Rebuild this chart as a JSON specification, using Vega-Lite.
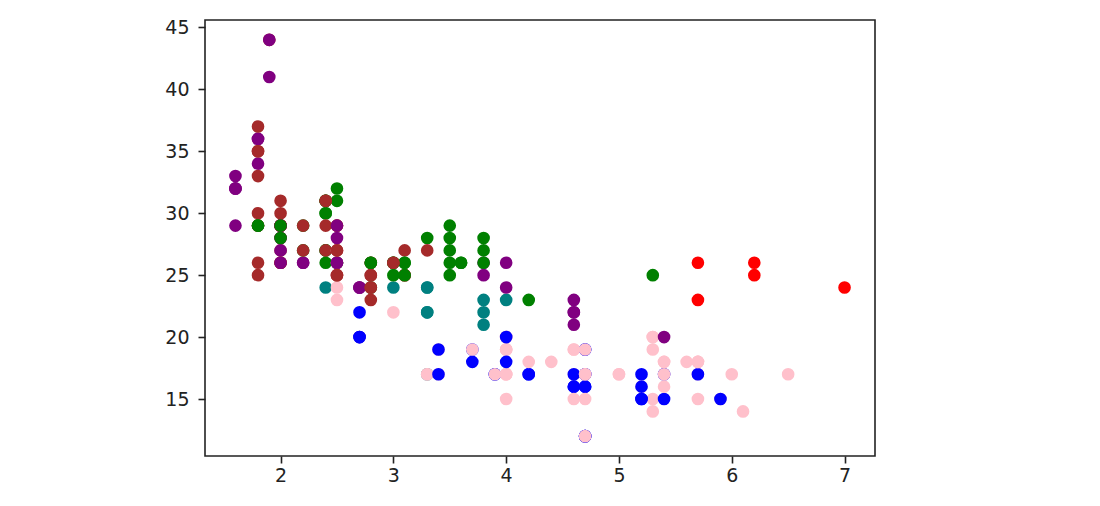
{
"$schema": "https://vega.github.io/schema/vega-lite/v6.json",
"autosize": "none",
"width": 670,
"height": 436,
"padding": {"left": 205, "top": 20, "right": 225, "bottom": 50},
"background": "white",
"config": {
"view": {"stroke": "#222", "strokeWidth": 1.6},
"axis": {"domain": false, "grid": false, "title": null, "labelFont": "DejaVu Sans", "labelFontSize": 19, "labelColor": "#222", "tickColor": "#222", "tickWidth": 1.6, "tickSize": 7}
},
"data": {"values": [
{"displ":1.8,"hwy":29,"class":"compact"},{"displ":1.8,"hwy":29,"class":"compact"},{"displ":2.0,"hwy":31,"class":"compact"},{"displ":2.0,"hwy":30,"class":"compact"},{"displ":2.8,"hwy":26,"class":"compact"},{"displ":2.8,"hwy":26,"class":"compact"},{"displ":3.1,"hwy":27,"class":"compact"},{"displ":1.8,"hwy":26,"class":"compact"},{"displ":1.8,"hwy":25,"class":"compact"},{"displ":2.0,"hwy":28,"class":"compact"},{"displ":2.0,"hwy":27,"class":"compact"},{"displ":2.8,"hwy":25,"class":"compact"},{"displ":2.8,"hwy":25,"class":"compact"},{"displ":3.1,"hwy":25,"class":"compact"},{"displ":3.1,"hwy":25,"class":"compact"},
{"displ":2.8,"hwy":24,"class":"midsize"},{"displ":3.1,"hwy":25,"class":"midsize"},{"displ":4.2,"hwy":23,"class":"midsize"},
{"displ":5.3,"hwy":20,"class":"suv"},{"displ":5.3,"hwy":15,"class":"suv"},{"displ":5.3,"hwy":20,"class":"suv"},{"displ":5.7,"hwy":17,"class":"suv"},{"displ":6.0,"hwy":17,"class":"suv"},
{"displ":5.7,"hwy":26,"class":"2seater"},{"displ":5.7,"hwy":23,"class":"2seater"},{"displ":6.2,"hwy":26,"class":"2seater"},{"displ":6.2,"hwy":25,"class":"2seater"},{"displ":7.0,"hwy":24,"class":"2seater"},
{"displ":5.3,"hwy":19,"class":"suv"},{"displ":5.3,"hwy":14,"class":"suv"},{"displ":5.7,"hwy":15,"class":"suv"},{"displ":6.5,"hwy":17,"class":"suv"},
{"displ":2.4,"hwy":27,"class":"midsize"},{"displ":2.4,"hwy":30,"class":"midsize"},{"displ":3.1,"hwy":26,"class":"midsize"},{"displ":3.5,"hwy":29,"class":"midsize"},{"displ":3.6,"hwy":26,"class":"midsize"},
{"displ":2.4,"hwy":24,"class":"minivan"},{"displ":3.0,"hwy":24,"class":"minivan"},{"displ":3.3,"hwy":22,"class":"minivan"},{"displ":3.3,"hwy":22,"class":"minivan"},{"displ":3.3,"hwy":24,"class":"minivan"},{"displ":3.3,"hwy":24,"class":"minivan"},{"displ":3.3,"hwy":17,"class":"minivan"},{"displ":3.8,"hwy":22,"class":"minivan"},{"displ":3.8,"hwy":21,"class":"minivan"},{"displ":3.8,"hwy":23,"class":"minivan"},{"displ":4.0,"hwy":23,"class":"minivan"},
{"displ":3.7,"hwy":19,"class":"pickup"},{"displ":3.7,"hwy":18,"class":"pickup"},{"displ":3.9,"hwy":17,"class":"pickup"},{"displ":3.9,"hwy":17,"class":"pickup"},{"displ":4.7,"hwy":19,"class":"pickup"},{"displ":4.7,"hwy":19,"class":"pickup"},{"displ":4.7,"hwy":12,"class":"pickup"},{"displ":5.2,"hwy":17,"class":"pickup"},{"displ":5.2,"hwy":15,"class":"pickup"},
{"displ":3.9,"hwy":17,"class":"suv"},{"displ":4.7,"hwy":17,"class":"suv"},{"displ":4.7,"hwy":12,"class":"suv"},{"displ":4.7,"hwy":17,"class":"suv"},{"displ":5.2,"hwy":16,"class":"suv"},{"displ":5.7,"hwy":18,"class":"suv"},{"displ":5.9,"hwy":15,"class":"suv"},
{"displ":4.7,"hwy":16,"class":"pickup"},{"displ":4.7,"hwy":12,"class":"pickup"},{"displ":4.7,"hwy":17,"class":"pickup"},{"displ":4.7,"hwy":17,"class":"pickup"},{"displ":4.7,"hwy":16,"class":"pickup"},{"displ":4.7,"hwy":12,"class":"pickup"},{"displ":5.2,"hwy":15,"class":"pickup"},{"displ":5.2,"hwy":16,"class":"pickup"},{"displ":5.7,"hwy":17,"class":"pickup"},{"displ":5.9,"hwy":15,"class":"pickup"},
{"displ":4.6,"hwy":17,"class":"suv"},{"displ":5.4,"hwy":17,"class":"suv"},{"displ":5.4,"hwy":18,"class":"suv"},{"displ":4.0,"hwy":17,"class":"suv"},{"displ":4.0,"hwy":19,"class":"suv"},{"displ":4.0,"hwy":17,"class":"suv"},{"displ":4.0,"hwy":19,"class":"suv"},{"displ":4.6,"hwy":19,"class":"suv"},{"displ":5.0,"hwy":17,"class":"suv"},
{"displ":4.2,"hwy":17,"class":"pickup"},{"displ":4.2,"hwy":17,"class":"pickup"},{"displ":4.6,"hwy":16,"class":"pickup"},{"displ":4.6,"hwy":16,"class":"pickup"},{"displ":4.6,"hwy":17,"class":"pickup"},{"displ":5.4,"hwy":15,"class":"pickup"},{"displ":5.4,"hwy":17,"class":"pickup"},
{"displ":3.8,"hwy":26,"class":"subcompact"},{"displ":3.8,"hwy":25,"class":"subcompact"},{"displ":4.0,"hwy":26,"class":"subcompact"},{"displ":4.0,"hwy":24,"class":"subcompact"},{"displ":4.6,"hwy":21,"class":"subcompact"},{"displ":4.6,"hwy":22,"class":"subcompact"},{"displ":4.6,"hwy":23,"class":"subcompact"},{"displ":4.6,"hwy":22,"class":"subcompact"},{"displ":5.4,"hwy":20,"class":"subcompact"},
{"displ":1.6,"hwy":33,"class":"subcompact"},{"displ":1.6,"hwy":32,"class":"subcompact"},{"displ":1.6,"hwy":32,"class":"subcompact"},{"displ":1.6,"hwy":29,"class":"subcompact"},{"displ":1.6,"hwy":32,"class":"subcompact"},{"displ":1.8,"hwy":34,"class":"subcompact"},{"displ":1.8,"hwy":36,"class":"subcompact"},{"displ":1.8,"hwy":36,"class":"subcompact"},{"displ":2.0,"hwy":29,"class":"subcompact"},
{"displ":2.4,"hwy":26,"class":"midsize"},{"displ":2.4,"hwy":27,"class":"midsize"},{"displ":2.4,"hwy":30,"class":"midsize"},{"displ":2.4,"hwy":31,"class":"midsize"},{"displ":2.5,"hwy":26,"class":"midsize"},{"displ":2.5,"hwy":26,"class":"midsize"},{"displ":3.3,"hwy":28,"class":"midsize"},
{"displ":2.0,"hwy":26,"class":"subcompact"},{"displ":2.0,"hwy":29,"class":"subcompact"},{"displ":2.0,"hwy":28,"class":"subcompact"},{"displ":2.0,"hwy":27,"class":"subcompact"},{"displ":2.7,"hwy":24,"class":"subcompact"},{"displ":2.7,"hwy":24,"class":"subcompact"},{"displ":2.7,"hwy":24,"class":"subcompact"},
{"displ":3.0,"hwy":22,"class":"suv"},{"displ":3.7,"hwy":19,"class":"suv"},{"displ":4.0,"hwy":20,"class":"suv"},{"displ":4.7,"hwy":17,"class":"suv"},{"displ":4.7,"hwy":12,"class":"suv"},{"displ":4.7,"hwy":19,"class":"suv"},{"displ":5.7,"hwy":18,"class":"suv"},{"displ":6.1,"hwy":14,"class":"suv"},
{"displ":4.0,"hwy":15,"class":"suv"},{"displ":4.2,"hwy":18,"class":"suv"},{"displ":4.4,"hwy":18,"class":"suv"},{"displ":4.6,"hwy":15,"class":"suv"},
{"displ":5.4,"hwy":17,"class":"suv"},{"displ":5.4,"hwy":16,"class":"suv"},{"displ":5.4,"hwy":18,"class":"suv"},
{"displ":4.0,"hwy":17,"class":"suv"},{"displ":4.0,"hwy":19,"class":"suv"},{"displ":4.6,"hwy":19,"class":"suv"},{"displ":5.0,"hwy":17,"class":"suv"},
{"displ":2.4,"hwy":29,"class":"compact"},{"displ":2.4,"hwy":27,"class":"compact"},{"displ":2.5,"hwy":31,"class":"midsize"},{"displ":2.5,"hwy":32,"class":"midsize"},{"displ":3.5,"hwy":27,"class":"midsize"},{"displ":3.5,"hwy":26,"class":"midsize"},
{"displ":3.0,"hwy":26,"class":"midsize"},{"displ":3.0,"hwy":25,"class":"midsize"},{"displ":3.5,"hwy":25,"class":"midsize"},
{"displ":3.3,"hwy":17,"class":"suv"},{"displ":3.3,"hwy":17,"class":"suv"},{"displ":4.0,"hwy":20,"class":"suv"},{"displ":5.6,"hwy":18,"class":"suv"},
{"displ":3.1,"hwy":26,"class":"midsize"},{"displ":3.8,"hwy":26,"class":"midsize"},{"displ":3.8,"hwy":27,"class":"midsize"},{"displ":3.8,"hwy":28,"class":"midsize"},{"displ":5.3,"hwy":25,"class":"midsize"},
{"displ":2.5,"hwy":25,"class":"suv"},{"displ":2.5,"hwy":24,"class":"suv"},{"displ":2.5,"hwy":27,"class":"suv"},{"displ":2.5,"hwy":25,"class":"suv"},{"displ":2.5,"hwy":26,"class":"suv"},{"displ":2.5,"hwy":23,"class":"suv"},
{"displ":2.2,"hwy":26,"class":"subcompact"},{"displ":2.2,"hwy":26,"class":"subcompact"},{"displ":2.5,"hwy":26,"class":"subcompact"},{"displ":2.5,"hwy":26,"class":"subcompact"},
{"displ":2.5,"hwy":25,"class":"compact"},{"displ":2.5,"hwy":27,"class":"compact"},{"displ":2.5,"hwy":25,"class":"compact"},{"displ":2.5,"hwy":27,"class":"compact"},
{"displ":2.7,"hwy":20,"class":"suv"},{"displ":2.7,"hwy":20,"class":"suv"},{"displ":3.4,"hwy":19,"class":"suv"},{"displ":3.4,"hwy":17,"class":"suv"},{"displ":4.0,"hwy":20,"class":"suv"},{"displ":4.7,"hwy":17,"class":"suv"},
{"displ":2.2,"hwy":29,"class":"midsize"},{"displ":2.2,"hwy":27,"class":"midsize"},{"displ":2.4,"hwy":31,"class":"midsize"},{"displ":2.4,"hwy":31,"class":"midsize"},{"displ":3.0,"hwy":26,"class":"midsize"},{"displ":3.0,"hwy":26,"class":"midsize"},{"displ":3.5,"hwy":28,"class":"midsize"},
{"displ":2.2,"hwy":27,"class":"compact"},{"displ":2.2,"hwy":29,"class":"compact"},{"displ":2.4,"hwy":31,"class":"compact"},{"displ":2.4,"hwy":31,"class":"compact"},{"displ":3.0,"hwy":26,"class":"compact"},{"displ":3.0,"hwy":26,"class":"compact"},{"displ":3.3,"hwy":27,"class":"compact"},
{"displ":1.8,"hwy":30,"class":"compact"},{"displ":1.8,"hwy":33,"class":"compact"},{"displ":1.8,"hwy":35,"class":"compact"},{"displ":1.8,"hwy":37,"class":"compact"},{"displ":1.8,"hwy":35,"class":"compact"},
{"displ":4.7,"hwy":15,"class":"suv"},{"displ":5.7,"hwy":18,"class":"suv"},
{"displ":2.7,"hwy":20,"class":"pickup"},{"displ":2.7,"hwy":20,"class":"pickup"},{"displ":2.7,"hwy":22,"class":"pickup"},{"displ":3.4,"hwy":17,"class":"pickup"},{"displ":3.4,"hwy":19,"class":"pickup"},{"displ":4.0,"hwy":18,"class":"pickup"},{"displ":4.0,"hwy":20,"class":"pickup"},
{"displ":2.0,"hwy":29,"class":"compact"},{"displ":2.0,"hwy":26,"class":"compact"},{"displ":2.0,"hwy":29,"class":"compact"},{"displ":2.0,"hwy":29,"class":"compact"},{"displ":2.8,"hwy":24,"class":"compact"},
{"displ":1.9,"hwy":44,"class":"compact"},{"displ":2.0,"hwy":29,"class":"compact"},{"displ":2.0,"hwy":26,"class":"compact"},{"displ":2.0,"hwy":29,"class":"compact"},{"displ":2.0,"hwy":29,"class":"compact"},{"displ":2.5,"hwy":29,"class":"compact"},{"displ":2.5,"hwy":29,"class":"compact"},{"displ":2.8,"hwy":23,"class":"compact"},{"displ":2.8,"hwy":24,"class":"compact"},
{"displ":1.9,"hwy":44,"class":"subcompact"},{"displ":1.9,"hwy":41,"class":"subcompact"},{"displ":2.0,"hwy":29,"class":"subcompact"},{"displ":2.0,"hwy":26,"class":"subcompact"},{"displ":2.5,"hwy":28,"class":"subcompact"},{"displ":2.5,"hwy":29,"class":"subcompact"},
{"displ":1.8,"hwy":29,"class":"midsize"},{"displ":1.8,"hwy":29,"class":"midsize"},{"displ":2.0,"hwy":28,"class":"midsize"},{"displ":2.0,"hwy":29,"class":"midsize"},{"displ":2.8,"hwy":26,"class":"midsize"},{"displ":2.8,"hwy":26,"class":"midsize"},{"displ":3.6,"hwy":26,"class":"midsize"}
]},
"mark": {"type": "point", "filled": true, "opacity": 1, "size": 160},
"encoding": {
"x": {"field": "displ", "type": "quantitative", "scale": {"domain": [1.33, 7.27], "nice": false, "zero": false}, "axis": {"values": [2,3,4,5,6,7], "labelPadding": 3}},
"y": {"field": "hwy", "type": "quantitative", "scale": {"domain": [10.4, 45.6], "nice": false, "zero": false}, "axis": {"values": [15,20,25,30,35,40,45], "labelPadding": 9}},
"color": {"field": "class", "type": "nominal", "legend": null, "scale": {"domain": ["2seater","compact","midsize","minivan","pickup","subcompact","suv"], "range": ["red","brown","green","teal","blue","purple","pink"]}}
}
}
